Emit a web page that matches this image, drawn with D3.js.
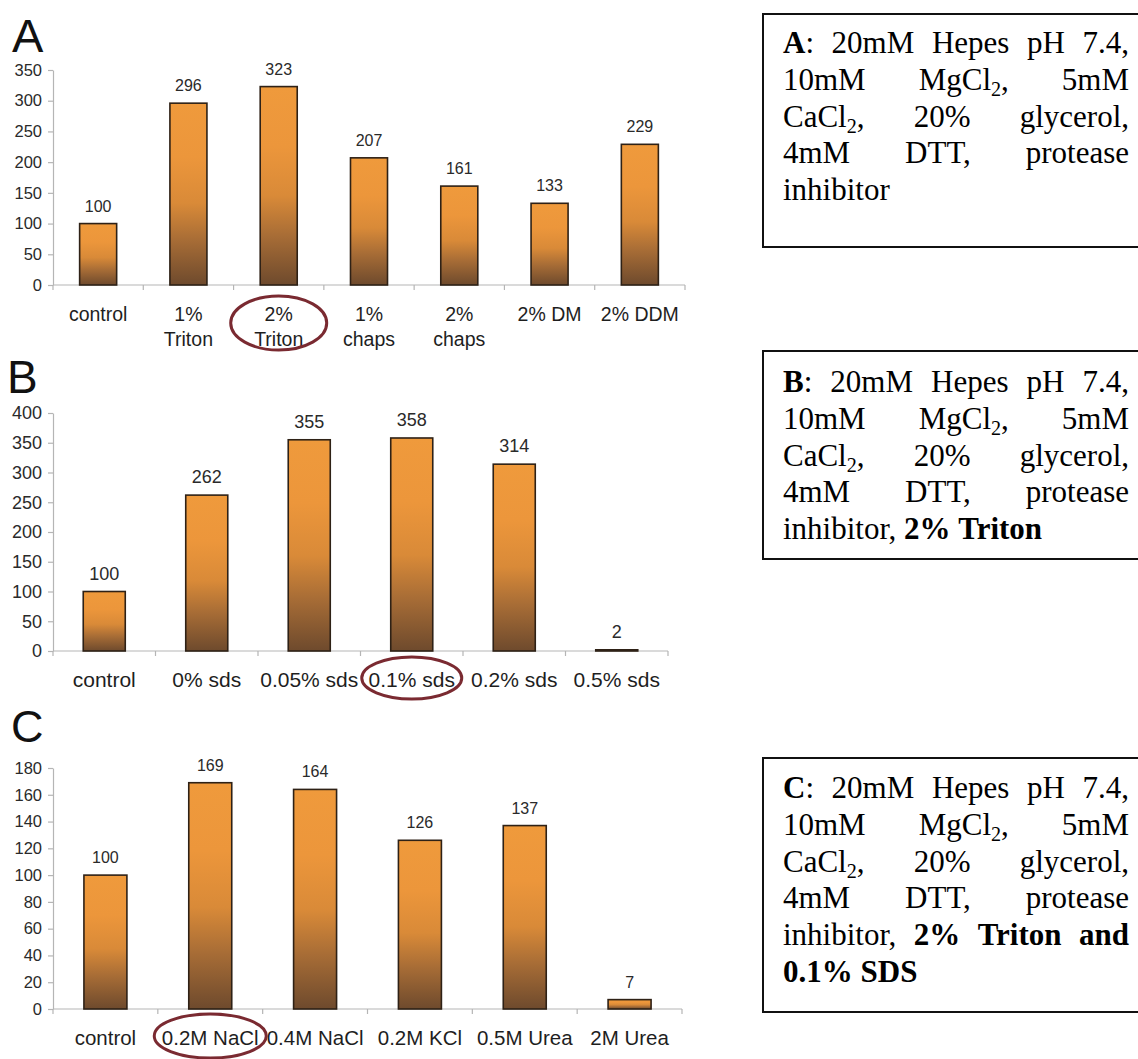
<!DOCTYPE html>
<html>
<head>
<meta charset="utf-8">
<script src="https://cdn.jsdelivr.net/npm/d3@7"></script>
<style>
  html, body { margin: 0; padding: 0; background: #fff; }
  svg { display: block; }
</style>
</head>
<body>
<svg id="chart" width="1138" height="1059"></svg>
<script>
// ---------------- DATA ----------------
const categoriesA = ["control", "1%\nTriton", "2%\nTriton", "1%\nchaps", "2%\nchaps", "2% DM", "2% DDM"];
const valuesA = [100, 296, 323, 207, 161, 133, 229];
const ticksA = [0, 50, 100, 150, 200, 250, 300, 350];
const highlightA = "2%\nTriton";

const categoriesB = ["control", "0% sds", "0.05% sds", "0.1% sds", "0.2% sds", "0.5% sds"];
const valuesB = [100, 262, 355, 358, 314, 2];
const ticksB = [0, 50, 100, 150, 200, 250, 300, 350, 400];
const highlightB = "0.1% sds";

const categoriesC = ["control", "0.2M NaCl", "0.4M NaCl", "0.2M KCl", "0.5M Urea", "2M Urea"];
const valuesC = [100, 169, 164, 126, 137, 7];
const ticksC = [0, 20, 40, 60, 80, 100, 120, 140, 160, 180];
const highlightC = "0.2M NaCl";

// Box texts: each line is a list of words, each word a list of [text, style]
const commonLines = [
  [[["10mM","n"]], [["MgCl","n"],["2","sub"],[",","n"]], [["5mM","n"]]],
  [[["CaCl","n"],["2","sub"],[",","n"]], [["20%","n"]], [["glycerol,","n"]]],
  [[["4mM","n"]], [["DTT,","n"]], [["protease","n"]]]
];
const firstLine = L => [[[L,"b"],[":","n"]], [["20mM","n"]], [["Hepes","n"]], [["pH","n"]], [["7.4,","n"]]];
const boxTextA = [firstLine("A"), ...commonLines, [[["inhibitor","n"]]]];
const boxTextB = [firstLine("B"), ...commonLines, [[["inhibitor,","n"]], [["2%","b"]], [["Triton","b"]]]];
const boxTextC = [firstLine("C"), ...commonLines,
  [[["inhibitor,","n"]], [["2%","b"]], [["Triton","b"]], [["and","b"]]],
  [[["0.1%","b"]], [["SDS","b"]]]];

// ---------------- LAYOUT ----------------
const svg = d3.select("#chart");
const SANS = "'Liberation Sans', Arial, Helvetica, sans-serif";
const SERIF = "'Liberation Serif', 'Times New Roman', serif";

const defs = svg.append("defs");
const grad = defs.append("linearGradient").attr("id", "barGrad")
  .attr("x1", 0).attr("y1", 0).attr("x2", 0).attr("y2", 1);
[[0, "#ef9a3c"], [0.3, "#ec963b"], [0.55, "#d98a38"], [0.75, "#a86d36"], [1, "#6e4a2d"]]
  .forEach(([o, c]) => grad.append("stop").attr("offset", o).attr("stop-color", c));

const panels = [
  { letter: "A", cats: categoriesA, vals: valuesA, ticks: ticksA, hl: highlightA,
    x0: 53, x1: 685, yTop: 70, yBot: 285, letterX: 12, letterY: 52, letterSize: 47,
    tickSize: 16.5, valSize: 16, catSize: 19.5, barFrac: 0.41,
    ell: { rx: 48, ry: 27, dy: 38 } },
  { letter: "B", cats: categoriesB, vals: valuesB, ticks: ticksB, hl: highlightB,
    x0: 53, x1: 668, yTop: 413, yBot: 651, letterX: 7, letterY: 393, letterSize: 46,
    tickSize: 18, valSize: 18, catSize: 21, barFrac: 0.41,
    ell: { rx: 50, ry: 21, dy: 27 } },
  { letter: "C", cats: categoriesC, vals: valuesC, ticks: ticksC, hl: highlightC,
    x0: 53, x1: 682, yTop: 768, yBot: 1009, letterX: 11, letterY: 742, letterSize: 45,
    tickSize: 16.5, valSize: 16, catSize: 20.5, barFrac: 0.41,
    ell: { rx: 56, ry: 22, dy: 27 } }
];

panels.forEach(p => {
  const g = svg.append("g");
  const x = d3.scaleBand().domain(p.cats).range([p.x0, p.x1]).padding(0);
  const yMax = d3.max(p.ticks);
  const y = d3.scaleLinear().domain([0, yMax]).range([p.yBot, p.yTop]);

  // panel letter
  g.append("text").attr("x", p.letterX).attr("y", p.letterY)
    .attr("font-family", SANS).attr("font-size", p.letterSize).attr("fill", "#111")
    .text(p.letter);

  // y axis
  const yAxis = d3.axisLeft(y).tickValues(p.ticks).tickSize(5).tickPadding(6).tickSizeOuter(0);
  const ya = g.append("g").attr("transform", `translate(${p.x0},0)`).call(yAxis);
  ya.select(".domain").attr("stroke", "#b5b5b5").attr("stroke-width", 1.2);
  ya.selectAll(".tick line").attr("stroke", "#b5b5b5").attr("stroke-width", 1.2);
  ya.selectAll(".tick text").attr("font-family", SANS).attr("font-size", p.tickSize).attr("fill", "#2a2a2a");

  // x axis line + boundary ticks
  g.append("line").attr("x1", p.x0).attr("x2", p.x1).attr("y1", p.yBot).attr("y2", p.yBot)
    .attr("stroke", "#b5b5b5").attr("stroke-width", 1.2);
  const bounds = p.cats.map(c => x(c)).concat([p.x1]);
  g.selectAll(".xt").data(bounds).enter().append("line")
    .attr("x1", d => d).attr("x2", d => d).attr("y1", p.yBot).attr("y2", p.yBot + 5)
    .attr("stroke", "#b5b5b5").attr("stroke-width", 1.2);

  // bars
  const bw = x.bandwidth() * p.barFrac;
  const data = p.cats.map((c, i) => ({ c, v: p.vals[i] }));
  g.selectAll(".bar").data(data).enter().append("rect")
    .attr("x", d => x(d.c) + (x.bandwidth() - bw) / 2)
    .attr("y", d => y(d.v))
    .attr("width", bw)
    .attr("height", d => Math.max(0.5, y(0) - y(d.v)))
    .attr("fill", "url(#barGrad)")
    .attr("stroke", "#2e2116").attr("stroke-width", 1.6);

  // value labels
  g.selectAll(".val").data(data).enter().append("text")
    .attr("x", d => x(d.c) + x.bandwidth() / 2)
    .attr("y", d => y(d.v) - 12)
    .attr("text-anchor", "middle")
    .attr("font-family", SANS).attr("font-size", p.valSize).attr("fill", "#2a2a2a")
    .text(d => d.v);

  // category labels
  data.forEach(d => {
    const lines = d.c.split("\n");
    const t = g.append("text").attr("text-anchor", "middle")
      .attr("font-family", SANS).attr("font-size", p.catSize).attr("fill", "#1e1e1e");
    lines.forEach((ln, i) => {
      t.append("tspan").attr("x", x(d.c) + x.bandwidth() / 2)
        .attr("y", p.yBot + 36 + i * 25).text(ln);
    });
  });

  // highlight ellipse
  g.append("ellipse")
    .attr("cx", x(p.hl) + x.bandwidth() / 2)
    .attr("cy", p.yBot + p.ell.dy)
    .attr("rx", p.ell.rx).attr("ry", p.ell.ry)
    .attr("fill", "none").attr("stroke", "#7a2a31").attr("stroke-width", 3);
});

// ---------------- TEXT BOXES ----------------
const boxes = [
  { lines: boxTextA, top: 14, bottom: 247, base: 53 },
  { lines: boxTextB, top: 351, bottom: 559, base: 392 },
  { lines: boxTextC, top: 758, bottom: 1012, base: 798 }
];
const boxLeft = 763, textLeft = 783, textRight = 1129, lineH = 36.8, FS = 31;

boxes.forEach(b => {
  const g = svg.append("g");
  g.append("rect").attr("x", boxLeft).attr("y", b.top)
    .attr("width", 1160 - boxLeft).attr("height", b.bottom - b.top)
    .attr("fill", "none").attr("stroke", "#111").attr("stroke-width", 2);
  const nLines = b.lines.length;
  b.lines.forEach((words, li) => {
    const yb = b.base + li * lineH;
    const nodes = words.map(w => {
      const t = g.append("text").attr("y", yb).attr("x", 0)
        .attr("font-family", SERIF).attr("font-size", FS).attr("fill", "#000");
      let shifted = false;
      w.forEach(([txt, st]) => {
        const ts = t.append("tspan").text(txt);
        if (st === "b") ts.attr("font-weight", "bold");
        if (st === "sub") { ts.attr("font-size", FS * 0.65).attr("dy", 6); shifted = true; }
        else if (shifted) { ts.attr("dy", -6); shifted = false; }
      });
      return t;
    });
    const widths = nodes.map(n => n.node().getComputedTextLength());
    const total = d3.sum(widths);
    const isLast = li === nLines - 1;
    const gap = (!isLast && nodes.length > 1)
      ? (textRight - textLeft - total) / (nodes.length - 1)
      : FS * 0.25;
    let cx = textLeft;
    nodes.forEach((n, i) => { n.attr("x", cx); cx += widths[i] + gap; });
  });
});
</script>
</body>
</html>
